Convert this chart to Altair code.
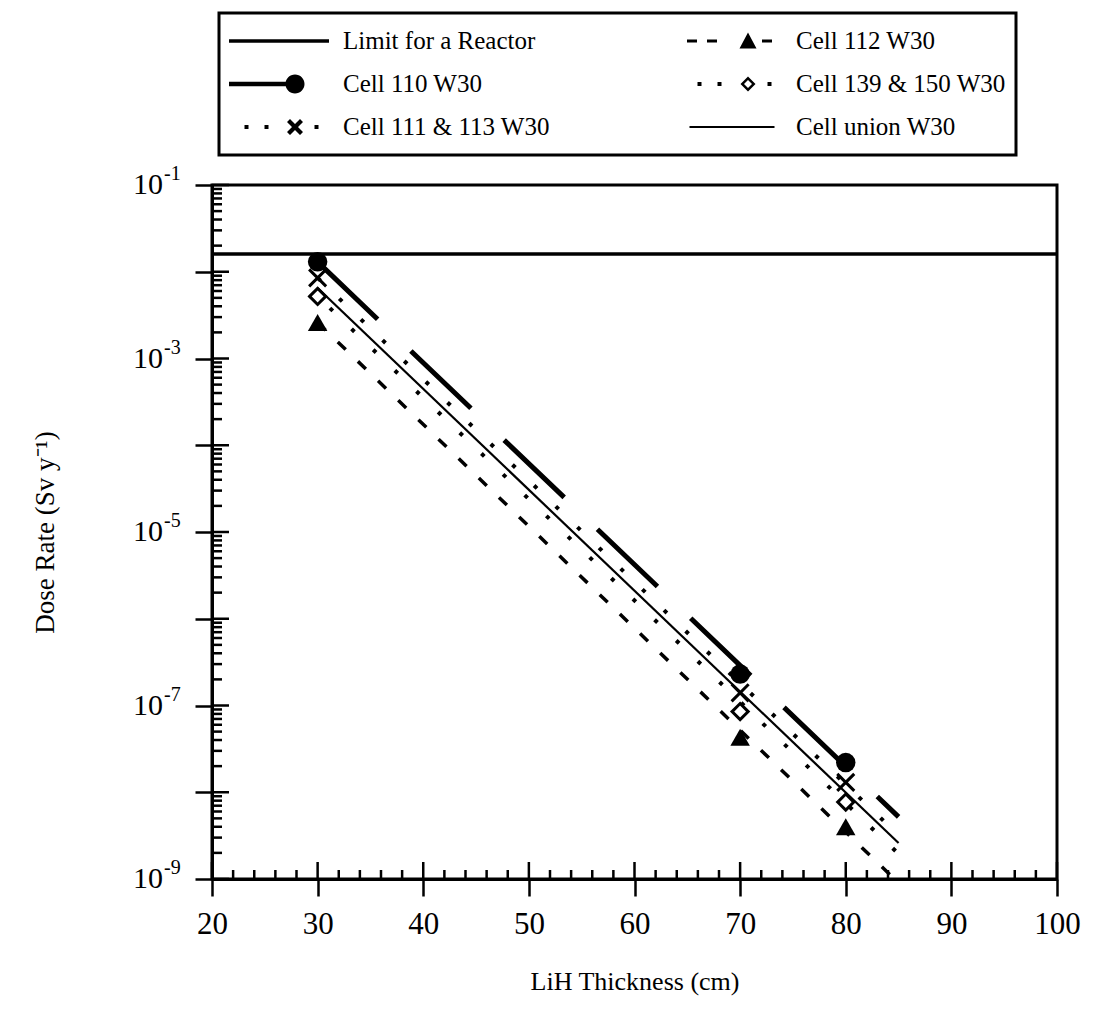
import altair as alt
import pandas as pd

# ---------------- data ----------------
x_pts = [30, 70, 80]
cell110 = [1.3e-2, 2.3e-7, 2.2e-8]
cell111_113 = [8.5e-3, 1.4e-7, 1.3e-8]
cell112 = [2.6e-3, 4.3e-8, 4.0e-9]
cell139_150 = [5.2e-3, 8.5e-8, 7.7e-9]

fit_x = [30, 85]
fit110 = [1.3e-2, 5.2e-9]
fit111_113 = [8.5e-3, 3.2e-9]
fit_union = [6.5e-3, 2.6e-9]
fit139_150 = [5.2e-3, 1.95e-9]
fit112 = [2.6e-3, 9.0e-10]

limit_x = [20, 100]
limit_val = [0.016, 0.016]

x_major = [20, 30, 40, 50, 60, 70, 80, 90, 100]
x_minor = [v for v in range(22, 100, 2) if v % 10 != 0]
y_decades = [1e-1, 1e-2, 1e-3, 1e-4, 1e-5, 1e-6, 1e-7, 1e-8, 1e-9]
y_minor = [m * 10.0 ** e for e in range(-9, -1) for m in range(2, 10)]
y_label_vals = [1e-1, 1e-3, 1e-5, 1e-7, 1e-9]
y_label_base = ["10", "10", "10", "10", "10"]
y_label_exp = ["-1", "-3", "-5", "-7", "-9"]

# legend is laid out column by column
legend_names = ["Limit for a Reactor", "Cell 110 W30", "Cell 111 & 113 W30",
                "Cell 112 W30", "Cell 139 & 150 W30", "Cell union W30"]

# ---------------- legend symbol paths (unit space, 1 = half symbol width) ----------------
def rect(x0, x1, h):
    return f"M {x0} {-h} L {x1} {-h} L {x1} {h} L {x0} {h} Z "

def dot(cx, s=0.04):
    return rect(cx - s, cx + s, s)

def xmark(cx, a=0.16, e=0.06):
    p = f"M {cx-a+e} {-a} L {cx+a} {a-e} L {cx+a-e} {a} L {cx-a} {-a+e} Z "
    q = f"M {cx+a-e} {-a} L {cx+a} {-a+e} L {cx-a+e} {a} L {cx-a} {a-e} Z "
    return p + q

mk = 0.32
p_limit = rect(-1, 1, 0.035)
p_110 = rect(-1, 0.14, 0.045) + f"M {mk-0.19} 0 A 0.19 0.19 0 1 1 {mk+0.19} 0 A 0.19 0.19 0 1 1 {mk-0.19} 0 Z"
p_111 = dot(-0.65) + dot(-0.25) + xmark(mk) + dot(0.75)
p_112 = rect(-0.9, -0.7, 0.03) + rect(-0.5, -0.3, 0.03) + \
    f"M {mk} -0.17 L {mk+0.17} 0.15 L {mk-0.17} 0.15 Z " + rect(0.6, 0.8, 0.03)
p_139 = dot(-0.65) + dot(-0.25) + \
    f"M {mk} -0.15 L {mk+0.15} 0 L {mk} 0.15 L {mk-0.15} 0 Z M {mk} -0.08 L {mk-0.08} 0 L {mk} 0.08 L {mk+0.08} 0 Z " + \
    dot(0.75)
p_union = rect(-0.85, 0.85, 0.02)
legend_paths = [p_limit, p_110, p_111, p_112, p_139, p_union]

# ---------------- layout ----------------
W, H = 845, 694
FONT = "Liberation Serif"

xs = alt.Scale(domain=[20, 100], nice=False, zero=False)
ys = alt.Scale(type="log", domain=[1e-9, 1e-1], nice=False)

x_axis = alt.Axis(values=x_major, format="d", title="LiH Thickness (cm)", tickSize=17,
                  labelPadding=13, labelFlush=False, labelOverlap=False, labelFontSize=31,
                  titleX=W / 2, titleY=102, titleBaseline="middle")
y_axis = alt.Axis(values=y_decades, labels=False, title="Dose Rate (Sv y⁻¹)",
                  tickSize=17, titleFontSize=27,
                  titleX=-167, titleY=H / 2, titleBaseline="middle", titleAlign="center")

X = alt.X("x:Q", scale=xs, axis=x_axis)
Y = alt.Y("y:Q", scale=ys, axis=y_axis)


def line_layer(xv, yv, **mark):
    df = pd.DataFrame({"x": xv, "y": yv})
    return alt.Chart(df).mark_line(color="black", clip=True, **mark).encode(x=X, y=Y)


def point_layer(yv, **mark):
    df = pd.DataFrame({"x": x_pts, "y": yv})
    return alt.Chart(df).mark_point(color="black", opacity=1, **mark).encode(x=X, y=Y)


limit = line_layer(limit_x, limit_val, strokeWidth=3.5)

lines = [
    line_layer(fit_x, fit110, strokeWidth=5, strokeDash=[83, 46]),
    line_layer(fit_x, fit111_113, strokeWidth=4, strokeDash=[4, 26]),
    line_layer(fit_x, fit_union, strokeWidth=2.2),
    line_layer(fit_x, fit139_150, strokeWidth=4, strokeDash=[4, 26], strokeDashOffset=13),
    line_layer(fit_x, fit112, strokeWidth=3.5, strokeDash=[11, 17]),
]

points = [
    point_layer(cell110, shape="circle", filled=True, size=380),
    point_layer(cell111_113, shape="M -1 -1 L 1 1 M -1 1 L 1 -1", filled=False, size=290, strokeWidth=3),
    point_layer(cell139_150, shape="diamond", filled=False, size=260, strokeWidth=3),
    point_layer(cell112, shape="triangle-up", filled=True, size=380),
]

# inner ticks
xmin_t = alt.Chart(pd.DataFrame({"x": x_minor})).mark_rule(color="black", strokeWidth=2.5).encode(
    x=X, y=alt.value(H), y2=alt.value(H - 9))
xmaj_t = alt.Chart(pd.DataFrame({"x": x_major})).mark_rule(color="black", strokeWidth=2.5).encode(
    x=X, y=alt.value(H), y2=alt.value(H - 17))
ymin_t = alt.Chart(pd.DataFrame({"y": y_minor})).mark_rule(color="black", strokeWidth=2.5).encode(
    y=Y, x=alt.value(0), x2=alt.value(10))
ymaj_t = alt.Chart(pd.DataFrame({"y": y_decades})).mark_rule(color="black", strokeWidth=2.5).encode(
    y=Y, x=alt.value(0), x2=alt.value(17))

# y tick labels: "10" with a raised exponent
ylab_df = pd.DataFrame({"y": y_label_vals, "base": y_label_base, "exp": y_label_exp})
ylab_base = alt.Chart(ylab_df).mark_text(font=FONT, fontSize=30, align="right", baseline="middle",
                                         color="black").encode(y=Y, x=alt.value(-49), text="base:N")
ylab_exp = alt.Chart(ylab_df).mark_text(font=FONT, fontSize=20, align="left", baseline="middle",
                                        color="black", dy=-11).encode(y=Y, x=alt.value(-48), text="exp:N")

# legend carrier (points sit outside the x domain and are clipped away)
leg_df = pd.DataFrame({"name": legend_names, "x": [0] * 6, "y": [1e-5] * 6})
legend_layer = alt.Chart(leg_df).mark_point(filled=True, color="black", size=10000, clip=True).encode(
    x=X, y=Y,
    shape=alt.Shape("name:N", scale=alt.Scale(domain=legend_names, range=legend_paths),
                    legend=alt.Legend(title=None, orient="none", legendX=7, legendY=-172,
                                      columns=2, columnPadding=132, rowPadding=7, clipHeight=36,
                                      symbolSize=10000, symbolStrokeWidth=0, symbolFillColor="black",
                                      symbolOpacity=1, labelFont=FONT, labelFontSize=25,
                                      labelColor="black", labelOffset=14, labelLimit=0,
                                      padding=10, strokeColor="black")))

chart = alt.layer(limit, *lines, *points, xmin_t, xmaj_t, ymin_t, ymaj_t,
                  ylab_base, ylab_exp, legend_layer).properties(
    width=W, height=H,
    autosize=alt.AutoSizeParams(type="none"),
    padding={"left": 212, "top": 185, "right": 30, "bottom": 130},
    background="white",
).configure_view(stroke="black", strokeWidth=3).configure_axis(
    grid=False, domainColor="black", domainWidth=3, tickColor="black", tickWidth=2.5,
    labelFont=FONT, labelFontSize=30, labelColor="black",
    titleFont=FONT, titleFontSize=26, titleFontWeight="normal", titleColor="black",
).configure_legend(strokeWidth=3)

chart.save("out.html", embed_options={"renderer": "svg", "actions": False})
